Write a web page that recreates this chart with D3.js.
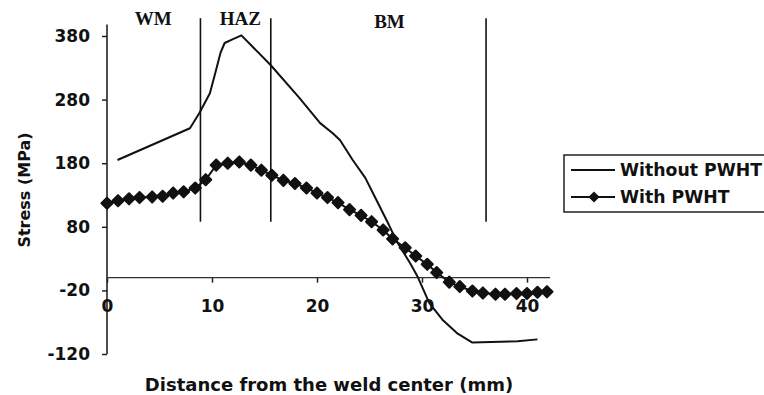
<!DOCTYPE html>
<html>
<head>
<meta charset="utf-8">
<script src="https://cdn.jsdelivr.net/npm/d3@7"></script>
<style>
  body { margin: 0; background: #fff; }
  text { font-family: "DejaVu Sans", sans-serif; font-weight: bold; fill: #111; }
  .zone { font-family: "Liberation Serif", "Times New Roman", serif; font-size: 19px; }
</style>
</head>
<body>
<div id="canvas"></div>
<script>
// tick labels
var xTicks = [0, 10, 20, 30, 40];
var yTicks = [-120, -20, 80, 180, 280, 380];

// weld zones: boundaries (mm) and label names
var zoneBounds = [8.9, 15.6, 36.1];
var zoneNames = ["WM", "HAZ", "BM"];
var zoneLabelAt = [4.4, 12.7, 26.9];

// Without PWHT (thin line)
var noPwhtX = [1.0, 7.9, 8.8, 9.8, 10.3, 10.8, 11.2, 12.0, 12.8, 15.6, 18.3, 20.3, 21.5, 22.2, 23.4, 24.6, 25.6, 26.7, 27.6, 28.9, 29.6, 30.7, 32.0, 33.4, 34.8, 39.1, 41.0];
var noPwhtY = [185, 235, 259, 290, 321, 353, 369, 375, 381, 334, 283, 243, 227, 216, 185, 157, 124, 88, 57, 22, 1, -40, -67, -88, -102, -100, -97];

// With PWHT (markers)
var pwhtX = [0, 1.05, 2.1, 3.1, 4.3, 5.3, 6.3, 7.3, 8.4, 9.4, 10.4, 11.5, 12.6, 13.7, 14.7, 15.7, 16.8, 17.9, 19.0, 20.0,
             21.0, 22.0, 23.1, 24.2, 25.2, 26.3, 27.2, 28.4, 29.4, 30.5, 31.4, 32.6, 33.6, 34.8, 35.8, 37.0, 37.9, 39.0, 40.0, 41.0, 41.9];
var pwhtY = [117, 121, 124, 126, 127, 128, 133, 135, 141, 154, 177, 180, 182, 177, 169, 161, 153, 148, 141, 133,
             126, 118, 107, 98, 88, 75, 61, 47, 34, 21, 8, -7, -14, -21, -24, -26, -26, -25, -25, -23, -22];

var width = 764, height = 395;

var svg = d3.select("#canvas").append("svg")
    .attr("width", width)
    .attr("height", height);

var x = d3.scaleLinear().domain([0, 40]).range([107, 527]);
var y = d3.scaleLinear().domain([-120, 380]).range([354, 36]);
var fmt = d => String(d); // plain hyphen for negatives

// y axis
var yAxis = svg.append("g")
    .attr("transform", "translate(" + x(0) + ",0)")
    .call(d3.axisLeft(y).tickValues(yTicks).tickFormat(fmt).tickSize(5).tickPadding(12).tickSizeOuter(0));
yAxis.select(".domain").remove();
yAxis.selectAll("text").style("font-size", "17px").attr("font-family", null);
yAxis.selectAll("line").attr("stroke", "#222").attr("stroke-width", 1.5);
svg.append("line")
    .attr("x1", x(0)).attr("x2", x(0))
    .attr("y1", y(398)).attr("y2", y(-120))
    .attr("stroke", "#222").attr("stroke-width", 1.6);

// x axis at zero
var xAxis = svg.append("g")
    .attr("transform", "translate(0," + y(0) + ")")
    .call(d3.axisBottom(x).tickValues(xTicks).tickFormat(fmt).tickSize(5).tickPadding(17));
xAxis.select(".domain").remove();
xAxis.selectAll("text").style("font-size", "17px").attr("font-family", null);
xAxis.selectAll("line").attr("stroke", "#222").attr("stroke-width", 1.5);
svg.append("line")
    .attr("x1", x(0)).attr("x2", x(42.2))
    .attr("y1", y(0)).attr("y2", y(0))
    .attr("stroke", "#333").attr("stroke-width", 1.3);

// zone boundaries
svg.selectAll("line.zone")
    .data(zoneBounds)
    .enter().append("line")
    .attr("class", "zone")
    .attr("x1", d => x(d)).attr("x2", d => x(d))
    .attr("y1", y(408)).attr("y2", y(88))
    .attr("stroke", "#111").attr("stroke-width", 1.6);

svg.selectAll("text.zone")
    .data(zoneNames)
    .enter().append("text")
    .attr("class", "zone")
    .attr("x", (d, i) => x(zoneLabelAt[i]))
    .attr("y", (d, i) => i == 2 ? 28 : 25)
    .attr("text-anchor", "middle")
    .text(d => d);

// without PWHT
var line = d3.line().x(d => x(d[0])).y(d => y(d[1]));
svg.append("path")
    .datum(noPwhtX.map((d, i) => [d, noPwhtY[i]]))
    .attr("d", line)
    .attr("fill", "none")
    .attr("stroke", "#111")
    .attr("stroke-width", 2)
    .attr("stroke-linejoin", "round");

// with PWHT
var pwht = pwhtX.map((d, i) => [d, pwhtY[i]]);
svg.append("path")
    .datum(pwht)
    .attr("d", line)
    .attr("fill", "none")
    .attr("stroke", "#111")
    .attr("stroke-width", 2);

var diamond = d3.symbol().type(d3.symbolSquare).size(62);
svg.selectAll("path.mk")
    .data(pwht)
    .enter().append("path")
    .attr("class", "mk")
    .attr("d", diamond)
    .attr("transform", d => "translate(" + x(d[0]) + "," + y(d[1]) + ") rotate(45)")
    .attr("fill", "#111")
    .attr("stroke", "#111")
    .attr("stroke-width", 2)
    .attr("stroke-linejoin", "round");

// axis titles
svg.append("text")
    .attr("x", 329).attr("y", 391)
    .attr("text-anchor", "middle")
    .style("font-size", "18px")
    .text("Distance from the weld center (mm)");

svg.append("text")
    .attr("transform", "translate(30,190) rotate(-90)")
    .attr("text-anchor", "middle")
    .style("font-size", "16px")
    .text("Stress (MPa)");

// legend
var legend = svg.append("g");
legend.append("rect")
    .attr("x", 564).attr("y", 155)
    .attr("width", 260).attr("height", 57)
    .attr("fill", "none").attr("stroke", "#222").attr("stroke-width", 1.5);
legend.append("line")
    .attr("x1", 571).attr("x2", 615).attr("y1", 170).attr("y2", 170)
    .attr("stroke", "#111").attr("stroke-width", 2);
legend.append("text")
    .attr("x", 620).attr("y", 170).attr("dy", "0.36em")
    .style("font-size", "17.3px")
    .text("Without PWHT");
legend.append("line")
    .attr("x1", 571).attr("x2", 615).attr("y1", 197).attr("y2", 197)
    .attr("stroke", "#111").attr("stroke-width", 2);
legend.append("path")
    .attr("d", diamond)
    .attr("transform", "translate(594,197) rotate(45)")
    .attr("fill", "#111");
legend.append("text")
    .attr("x", 620).attr("y", 197).attr("dy", "0.36em")
    .style("font-size", "17.3px")
    .text("With PWHT");
</script>
</body>
</html>
